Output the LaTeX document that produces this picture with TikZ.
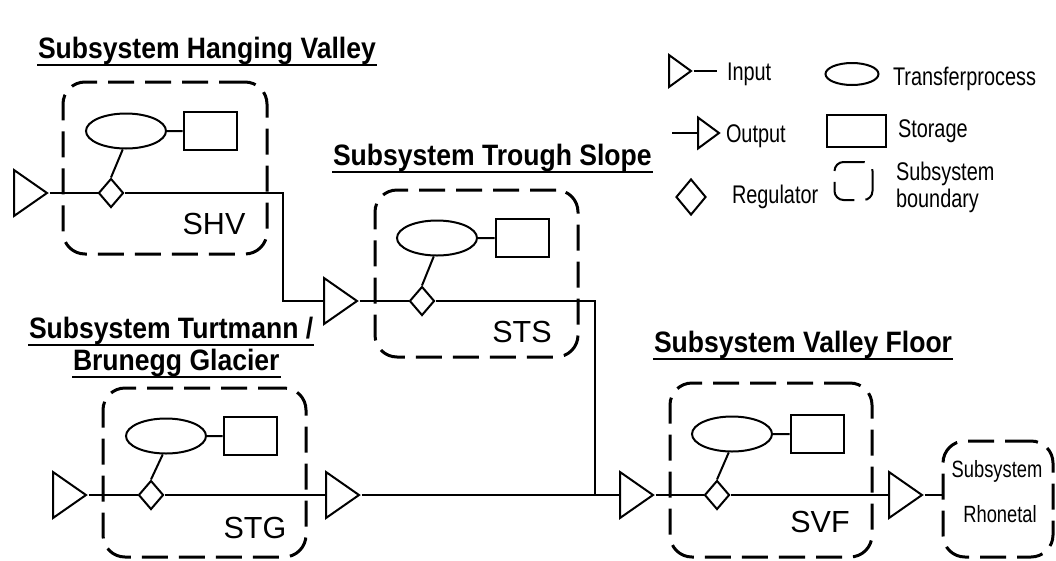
\documentclass[tikz,border=0pt]{standalone}
\usepackage{fontspec}
\setmainfont{Liberation Sans}
\newfontfamily\headfont[FakeStretch=0.9]{Liberation Sans}
\newfontfamily\narrowfont[FakeStretch=0.78]{Liberation Sans}
\usetikzlibrary{shapes.geometric}

\begin{document}
\begin{tikzpicture}[x=1pt,y=-1pt,line width=2pt]

\useasboundingbox (0,0) rectangle (1056,560);

\tikzstyle{boundary}=[draw,rounded corners=22pt,line width=3pt,dash pattern=on 26pt off 11pt];
\tikzstyle{inout}=[draw,isosceles triangle,isosceles triangle stretches,minimum width=46pt,minimum height=33pt,inner sep=0pt,anchor=west];
\tikzstyle{regulator}=[draw,diamond,minimum width=25pt,minimum height=29pt,inner sep=0pt];
\tikzstyle{transfer}=[draw,ellipse,minimum width=80pt,minimum height=35pt,inner sep=0pt];
\tikzstyle{storage}=[draw,rectangle,minimum width=53pt,minimum height=38pt,inner sep=0pt];
\tikzstyle{title}=[anchor=base west,inner sep=0pt,font=\headfont\bfseries\fontsize{29.5}{32}\selectfont];
\tikzstyle{code}=[anchor=base,inner sep=0pt,font=\fontsize{30.5}{32}\selectfont];
\tikzstyle{legend}=[anchor=base west,inner sep=0pt,font=\narrowfont\fontsize{25.5}{28}\selectfont];

% Subsystem Hanging Valley
\node[boundary,minimum width=204pt,minimum height=172pt] (bSHV) at (165,168) {};
\node[transfer] (eSHV) at (126,131) {};
\node[storage] (sSHV) at (210,131) {};
\node[regulator] (rSHV) at (111,193) {};
\node[inout] (iSHV) at (13,193) {};
\node[code] (cSHV) at (214,234) {SHV};
\node[title] (tSHV) at (37,58) {Subsystem Hanging Valley};

% Subsystem Trough Slope
\node[boundary,minimum width=203pt,minimum height=167pt] (bSTS) at (476.5,273.5) {};
\node[transfer] (eSTS) at (437,238) {};
\node[storage] (sSTS) at (522,238) {};
\node[regulator] (rSTS) at (422,301) {};
\node[inout] (iSTS) at (323,301) {};
\node[code] (cSTS) at (522,342) {STS};
\node[title] (tSTS) at (332,165) {Subsystem Trough Slope};

% Subsystem Turtmann / Brunegg Glacier
\node[boundary,minimum width=203pt,minimum height=169pt] (bSTG) at (204.5,472.5) {};
\node[transfer] (eSTG) at (166,436) {};
\node[storage] (sSTG) at (250,436) {};
\node[regulator] (rSTG) at (151,495) {};
\node[inout] (iSTG) at (52,495) {};
\node[inout] (oSTG) at (325,495) {};
\node[code] (cSTG) at (255,538) {STG};
\node[title] (tSTG) at (28,338) {Subsystem Turtmann /};
\node[title] (tSTGb) at (72,370) {Brunegg Glacier};

% Subsystem Valley Floor
\node[boundary,minimum width=202pt,minimum height=174pt] (bSVF) at (771,470) {};
\node[transfer] (eSVF) at (732,434) {};
\node[storage] (sSVF) at (817,434) {};
\node[regulator] (rSVF) at (717,495) {};
\node[inout] (iSVF) at (619,495) {};
\node[inout] (oSVF) at (888,495) {};
\node[code] (cSVF) at (820,532) {SVF};
\node[title] (tSVF) at (653,352) {Subsystem Valley Floor};

% Subsystem Rhonetal
\node[boundary,minimum width=110pt,minimum height=116pt] (bRH) at (998,499) {};
\node[code,font=\narrowfont\fontsize{23.5}{26}\selectfont] (cRHa) at (997,477) {Subsystem};
\node[code,font=\narrowfont\fontsize{23.5}{26}\selectfont] (cRHb) at (1000,522) {Rhonetal};

% underlines of the titles
\foreach \t in {tSHV,tSTS,tSTG,tSTGb,tSVF}
  \draw (\t.south west) -- (\t.south east);

% storages and regulators
\draw (eSHV) -- (sSHV) (eSHV.260) -- (rSHV.north);
\draw (eSTS) -- (sSTS) (eSTS.260) -- (rSTS.north);
\draw (eSTG) -- (sSTG) (eSTG.260) -- (rSTG.north);
\draw (eSVF) -- (sSVF) (eSVF.260) -- (rSVF.north);

% flows between the subsystems
\coordinate (kSHV) at (283,193);
\coordinate (kSTS) at (595,301);
\coordinate (jSVF) at (595,495);
\draw (iSHV.east) -- (rSHV.west);
\draw (rSHV.east) -- (kSHV) |- (iSTS.west);
\draw (iSTS.east) -- (rSTS.west);
\draw (rSTS.east) -- (kSTS) -- (jSVF);
\draw (iSTG.east) -- (rSTG.west);
\draw (rSTG.east) -- (oSTG.west);
\draw (oSTG.east) -- (iSVF.west);
\draw (iSVF.east) -- (rSVF.west);
\draw (rSVF.east) -- (oSVF.west);
\draw (oSVF.east) -- (oSVF.east -| bRH.west);

% Legend
\node[inout,minimum width=32pt,minimum height=22pt] (lgIn) at (668,71) {};
\coordinate (lgInEnd) at (717,71);
\draw (lgIn.east) -- (lgInEnd);
\node[legend] (lgInT) at (726,80) {Input};
\node[inout,minimum width=31pt,minimum height=21pt] (lgOut) at (697,133) {};
\coordinate (lgOutStart) at (672,133);
\draw (lgOutStart) -- (lgOut.west);
\node[legend] (lgOutT) at (725,142) {Output};
\node[regulator,minimum width=30pt,minimum height=36pt] (lgReg) at (691,197) {};
\node[legend] (lgRegT) at (731,203) {Regulator};
\node[transfer,minimum width=53pt,minimum height=22pt] (lgTr) at (852,74) {};
\node[legend] (lgTrT) at (892,85) {Transferprocess};
\node[storage,minimum width=59pt,minimum height=32pt] (lgSt) at (856,131) {};
\node[legend] (lgStT) at (897,137) {Storage};
\node[draw,rounded corners=9pt,minimum size=38pt,inner sep=0pt,dash pattern=on 34pt off 11pt] (lgBd) at (853.5,181) {};
\node[legend] (lgBdT) at (895,180) {Subsystem};
\node[legend] (lgBdTb) at (895,207) {boundary};

\end{tikzpicture}
\end{document}
